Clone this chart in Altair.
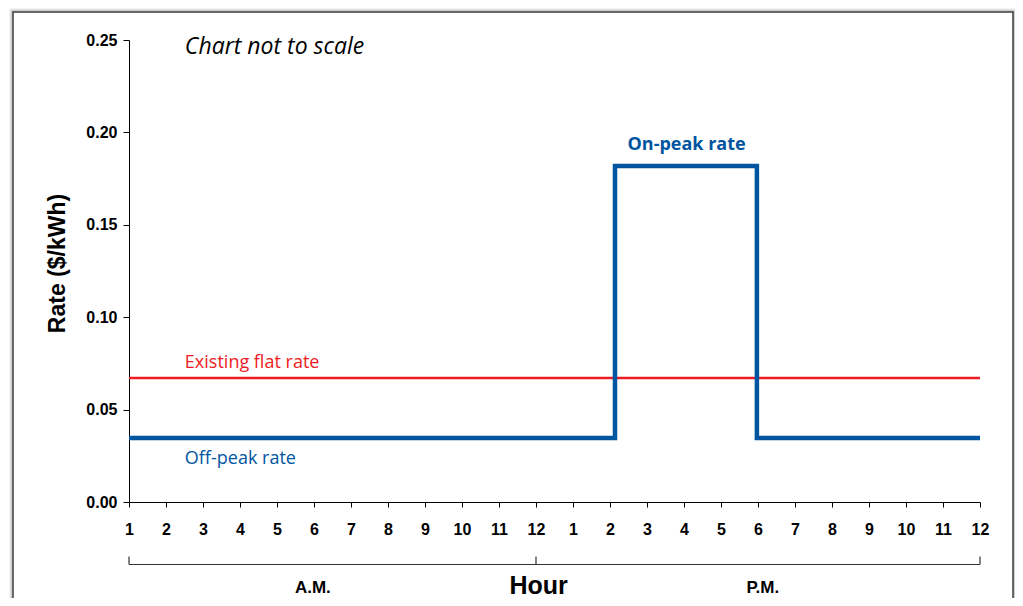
import altair as alt
import pandas as pd

# ---- data (hour index: 0 = 1 A.M. ... 11 = 12 noon ... 23 = 12 midnight) ----
hour_idx = list(range(24))
tou_x = [0, 13.135, 13.135, 16.97, 16.97, 23]
tou_y = [0.0346, 0.0346, 0.1818, 0.1818, 0.0346, 0.0346]
flat_x = [0, 23]
flat_y = [0.0671, 0.0671]

ann_text = ["Chart not to scale", "On-peak rate", "Existing flat rate", "Off-peak rate"]
ann_x = [1.51, 15.07, 1.51, 1.51]
ann_y = [0.2462, 0.1932, 0.0752, 0.0230]

period_text = ["A.M.", "P.M."]
period_x = [4.97, 17.13]
bracket_ends = [0, 23]
bracket_mid = [11]

BLUE = "#0055a0"
RED = "#ed1c24"
W, H = 851, 462

tou = pd.DataFrame({"x": tou_x, "y": tou_y, "o": range(len(tou_x))})
flat = pd.DataFrame({"x": flat_x, "y": flat_y})
ann = pd.DataFrame({"t": ann_text, "x": ann_x, "y": ann_y})
per = pd.DataFrame({"t": period_text, "x": period_x})
one = pd.DataFrame({"a": [0]})

xs = alt.Scale(domain=[0, 23], nice=False, zero=False)
ys = alt.Scale(domain=[0, 0.25], nice=False)

xaxis = alt.Axis(values=hour_idx, labelExpr="'' + ((datum.value % 12) + 1)",
                 title=None, grid=False, tickSize=5, labelPadding=14,
                 labelOverlap=False, labelFlush=False, labelBound=False,
                 labelFont="Liberation Sans", labelFontWeight="bold", labelFontSize=16,
                 labelColor="black", domainColor="black", tickColor="black", labelAngle=0)
yaxis = alt.Axis(values=[0, 0.05, 0.10, 0.15, 0.20, 0.25], format=".2f",
                 title="Rate ($/kWh)", grid=False, tickSize=6, labelPadding=6,
                 labelOverlap=False, labelFlush=False, labelBound=False,
                 labelFont="Liberation Sans", labelFontWeight="bold", labelFontSize=16,
                 labelColor="black", domainColor="black", tickColor="black",
                 titleFont="Liberation Sans", titleFontWeight="bold", titleFontSize=23,
                 titleColor="black", titleAngle=270, titleX=-65, titleY=223,
                 titleBaseline="alphabetic", titleAlign="center")

X = alt.X("x:Q", scale=xs, axis=xaxis)
Y = alt.Y("y:Q", scale=ys, axis=yaxis)

flat_line = alt.Chart(flat).mark_line(color=RED, strokeWidth=2.6).encode(x=X, y=Y)

tou_line = alt.Chart(tou).mark_line(color=BLUE, strokeWidth=4.5, strokeJoin="miter").encode(
    x=X, y=Y, order="o:Q")

def ann_mark(i, **kw):
    d = ann.iloc[[i]]
    return alt.Chart(d).mark_text(**kw).encode(x=X, y=Y, text="t:N")

a0 = ann_mark(0, font="Open Sans", fontStyle="italic", fontSize=23, align="left",
              baseline="middle", color="black")
a1 = ann_mark(1, font="Open Sans", fontWeight="bold", fontSize=18, align="center",
              baseline="middle", color=BLUE)
a2 = ann_mark(2, font="Open Sans", fontSize=18, align="left", baseline="middle", color=RED)
a3 = ann_mark(3, font="Open Sans", fontSize=18, align="left", baseline="middle", color=BLUE)

# bracket under the hour axis
br_h = alt.Chart(pd.DataFrame({"x": [bracket_ends[0]], "x2": [bracket_ends[1]]})).mark_rule(
    color="#333", strokeWidth=1.2).encode(x=X, x2="x2:Q", y=alt.value(524.5))
br_t = alt.Chart(pd.DataFrame({"x": bracket_ends + bracket_mid})).mark_rule(
    color="#333", strokeWidth=1.2).encode(x=X, y=alt.value(516.5), y2=alt.value(524.5))

per_txt = alt.Chart(per).mark_text(font="Liberation Sans", fontWeight="bold", fontSize=17,
                                   baseline="alphabetic", color="black").encode(
    x=X, y=alt.value(553), text="t:N")
hour_txt = alt.Chart(pd.DataFrame({"t": ["Hour"], "x": [11.07]})).mark_text(
    font="Liberation Sans", fontWeight="bold", fontSize=25, baseline="alphabetic",
    color="black").encode(x=X, y=alt.value(554), text="t:N")

# outer frame with soft shadow
shadow = alt.layer(*[
    alt.Chart(one).mark_rect(fill="white", fillOpacity=0, stroke="#000", strokeWidth=1,
                             strokeOpacity=op).encode(
        x=alt.value(-116 - k), x2=alt.value(884 + k), y=alt.value(-28 - k), y2=alt.value(640))
    for k, op in [(1, 0.25), (2, 0.15), (3, 0.08)]
])
frame = alt.Chart(one).mark_rect(fill="white", fillOpacity=0, stroke="#3c3c3c",
                                 strokeWidth=1.5).encode(
    x=alt.value(-116), x2=alt.value(884), y=alt.value(-28), y2=alt.value(640))

chart = alt.layer(shadow, frame, flat_line, tou_line, a0, a1, a2, a3,
                  br_h, br_t, per_txt, hour_txt).properties(
    width=W, height=H,
    autosize=alt.AutoSizeParams(type="none"),
    padding={"left": 121, "top": 32, "right": 35, "bottom": 96},
    background="white",
).configure_view(stroke=None)

chart.save("out.html", embed_options={"renderer": "svg", "actions": False})
